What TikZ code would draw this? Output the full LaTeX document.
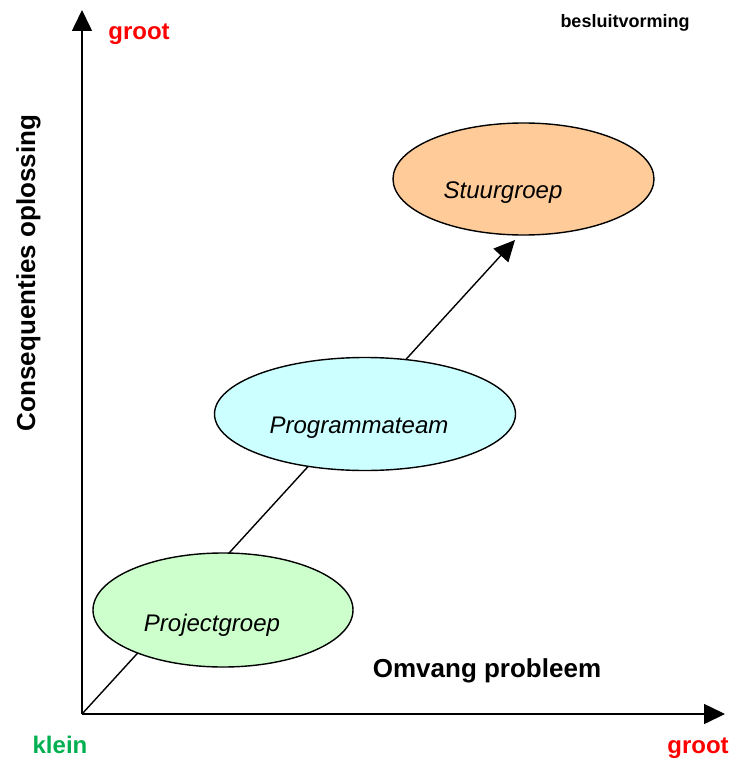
\documentclass[tikz,border=0pt]{standalone}
\usepackage{fontspec}
\setmainfont{Liberation Sans}
\usetikzlibrary{arrows.meta,shapes.geometric}
\definecolor{grootred}{HTML}{FF0000}
\definecolor{kleingreen}{HTML}{00B050}
\definecolor{projfill}{HTML}{CCFFCC}
\definecolor{progfill}{HTML}{CCFFFF}
\definecolor{stuurfill}{HTML}{FFCC99}
\tikzset{
  axis/.style={line width=1.6pt,-{Triangle[length=21pt,width=20pt]}},
  group/.style={ellipse,draw=black,line width=1.4pt,inner sep=0pt},
  grouplabel/.style={anchor=base,font=\fontsize{24}{28}\selectfont\itshape},
  axistitle/.style={anchor=base,font=\fontsize{26}{30}\selectfont\bfseries},
  endlabel/.style={anchor=base,font=\fontsize{24}{28}\selectfont\bfseries},
}
\begin{document}
\begin{tikzpicture}[x=1pt,y=-1pt]
\useasboundingbox (0,0) rectangle (735,760);
% axes
\coordinate (o) at (82,714);
\coordinate (ytip) at (82,10);
\coordinate (xtip) at (725,714);
\coordinate (dtip) at (515,240);
\draw[axis] (o) -- (ytip);
\draw[axis] (o) -- (xtip);
% escalation line behind the groups
\draw[line width=1.4pt,-{Triangle[length=21pt,width=20pt]}] (o) -- (dtip);
% groups
\node[group,fill=projfill,minimum width=260pt,minimum height=114pt] (proj) at (223,610) {};
\node[group,fill=progfill,minimum width=301pt,minimum height=113pt] (prog) at (365,414) {};
\node[group,fill=stuurfill,minimum width=261pt,minimum height=112pt] (stuur) at (523.5,179) {};
\node[grouplabel] (projt) at (212,631) {Projectgroep};
\node[grouplabel] (progt) at (359,433) {Programmateam};
\node[grouplabel] (stuurt) at (503,198) {Stuurgroep};
% labels
\node[axistitle] (xt) at (487,677) {Omvang probleem};
\node[axistitle,rotate=90] (yt) at (35,273) {Consequenties oplossing};
\node[endlabel,text=grootred] (ygroot) at (139,40) {groot};
\node[endlabel,text=grootred] (xgroot) at (698,753) {groot};
\node[endlabel,text=kleingreen] (klein) at (60,753) {klein};
\node[anchor=base,font=\fontsize{18}{22}\selectfont\bfseries] (bes) at (625,28) {besluitvorming};
\end{tikzpicture}
\end{document}
